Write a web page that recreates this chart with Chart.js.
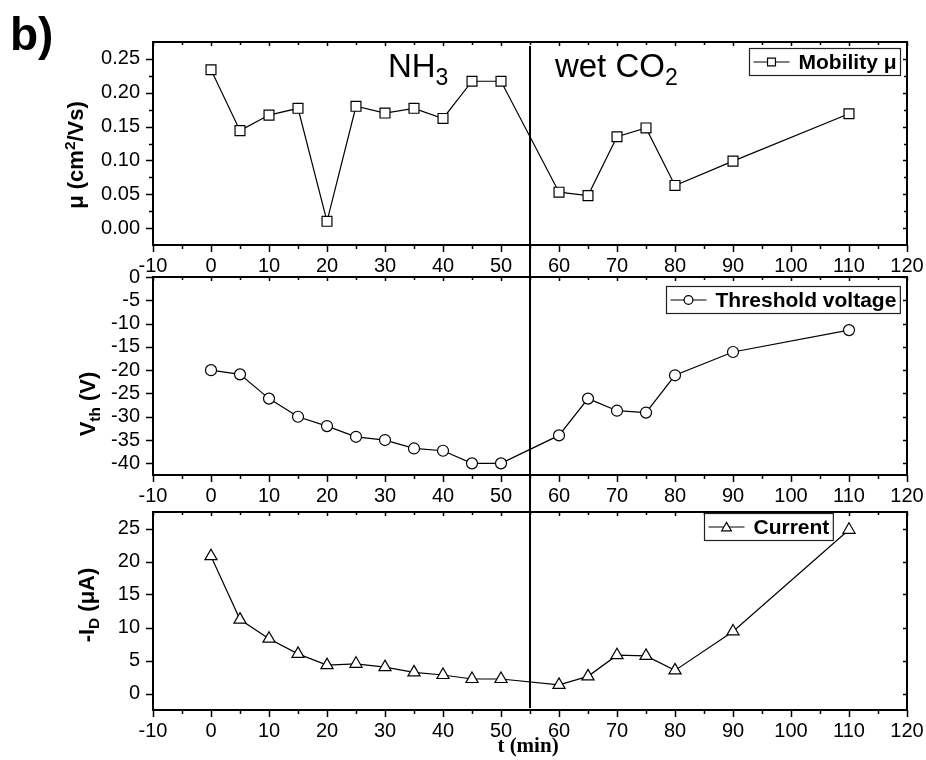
<!DOCTYPE html>
<html lang="en">
<head>
  <meta charset="UTF-8">
  <title>Mobility, threshold voltage and current vs time</title>
  <script src="https://cdn.jsdelivr.net/npm/chart.js@4.4.1/dist/chart.umd.min.js"></script>
  <style>
    html, body { margin: 0; padding: 0; background: #fff; }
    #wrap { position: relative; width: 926px; height: 760px; overflow: hidden; }
    #wrap canvas { position: absolute; left: 0; }
  </style>
</head>
<body>
  <div id="wrap">
    <canvas id="c1" width="926" height="285" style="top:0px"></canvas>
    <canvas id="c2" width="926" height="250" style="top:262px"></canvas>
    <canvas id="c3" width="926" height="263" style="top:497px"></canvas>
  </div>

  <script>
    // time after start (min)
    const times = [0, 5, 10, 15, 20, 25, 30, 35, 40, 45, 50, 60, 65, 70, 75, 80, 90, 110];
    const mobility = [0.234, 0.144, 0.167, 0.177, 0.010, 0.180, 0.170, 0.177, 0.162, 0.217, 0.217,
                      0.053, 0.048, 0.135, 0.148, 0.063, 0.099, 0.169];
    const vth = [-20.0, -20.9, -26.1, -30.0, -32.0, -34.3, -35.0, -36.8, -37.3, -40.0, -40.0,
                 -34.0, -26.1, -28.7, -29.1, -21.1, -16.1, -11.4];
    const current = [20.8, 11.2, 8.3, 6.0, 4.3, 4.5, 4.0, 3.2, 2.8, 2.2, 2.2,
                     1.3, 2.6, 5.8, 5.7, 3.5, 9.4, 24.8];
    const switchTime = 55; // NH3 -> wet CO2

    const xTicks = [-10, 0, 10, 20, 30, 40, 50, 60, 70, 80, 90, 100, 110, 120];
    const muTicks = [0, 0.05, 0.10, 0.15, 0.20, 0.25];
    const vthTicks = [-40, -35, -30, -25, -20, -15, -10, -5, 0];
    const curTicks = [0, 5, 10, 15, 20, 25];

    const SANS = '"Liberation Sans", Arial, Helvetica, sans-serif';
    const SERIF = '"Liberation Serif", "Times New Roman", serif';

    function mids(vals) {
      const out = [];
      for (let i = 0; i < vals.length - 1; i++) out.push((vals[i] + vals[i + 1]) / 2);
      return out;
    }

    function drawRich(ctx, parts, size) {
      // parts: [text, mode] with mode 0 normal, 1 superscript, -1 subscript
      let w = 0;
      parts.forEach(p => {
        ctx.font = 'bold ' + (p[1] ? size * 0.7 : size) + 'px ' + SANS;
        w += ctx.measureText(p[0]).width;
      });
      let x = -w / 2;
      parts.forEach(p => {
        const s = p[1] ? size * 0.7 : size;
        ctx.font = 'bold ' + s + 'px ' + SANS;
        const dy = p[1] === 1 ? -size * 0.38 : p[1] === -1 ? size * 0.25 : 0;
        ctx.fillText(p[0], x, size * 0.36 + dy);
        x += ctx.measureText(p[0]).width;
      });
    }

    const framePlugin = {
      id: 'frame',
      afterDraw(chart, args, opts) {
        const { ctx, chartArea: a, scales: { x, y } } = chart;
        ctx.save();
        ctx.strokeStyle = '#000';
        ctx.fillStyle = '#000';

        // divider between the two gas phases
        const xd = Math.round(x.getPixelForValue(switchTime));
        ctx.lineWidth = 2;
        ctx.beginPath();
        ctx.moveTo(xd, opts.divTop === 'area' ? a.top + 4 : 0);
        ctx.lineTo(xd, opts.divBottom === 'area' ? a.bottom - 2 : chart.height);
        ctx.stroke();

        // ticks
        ctx.lineWidth = 1.5;
        const xs = x.ticks.map(t => t.value);
        const ys = y.ticks.map(t => t.value);
        ctx.beginPath();
        xs.forEach(v => {
          const p = Math.round(x.getPixelForValue(v)) + 0.5;
          ctx.moveTo(p, a.bottom); ctx.lineTo(p, a.bottom + 7);
          ctx.moveTo(p, a.top); ctx.lineTo(p, a.top + 4);
        });
        mids(xs).forEach(v => {
          const p = Math.round(x.getPixelForValue(v)) + 0.5;
          ctx.moveTo(p, a.bottom); ctx.lineTo(p, a.bottom + 4);
          ctx.moveTo(p, a.top); ctx.lineTo(p, a.top + 3);
        });
        ys.forEach(v => {
          const p = Math.round(y.getPixelForValue(v)) + 0.5;
          ctx.moveTo(a.left - 7, p); ctx.lineTo(a.left, p);
          ctx.moveTo(a.right - 4, p); ctx.lineTo(a.right, p);
        });
        if (opts.yMinor) {
          mids(ys).forEach(v => {
            const p = Math.round(y.getPixelForValue(v)) + 0.5;
            ctx.moveTo(a.left - 4, p); ctx.lineTo(a.left, p);
            ctx.moveTo(a.right - 3, p); ctx.lineTo(a.right, p);
          });
        }
        ctx.stroke();

        // box
        ctx.lineWidth = 2;
        ctx.strokeRect(a.left, a.top, a.right - a.left, a.bottom - a.top);

        // legend
        const ds = chart.data.datasets[0];
        const L = opts.legend;
        ctx.font = 'bold 21px ' + SANS;
        const tw = ctx.measureText(ds.label).width;
        const bw = 4 + 36 + 9 + tw + 4, bh = 27;
        const bx = Math.round(a.right - L.right - bw) + 0.5, by = Math.round(a.top + L.top) + 0.5;
        ctx.fillStyle = '#fff';
        ctx.fillRect(bx, by, bw, bh);
        ctx.lineWidth = 1.2;
        ctx.strokeStyle = '#222';
        ctx.strokeRect(bx, by, bw, bh);
        ctx.strokeStyle = '#000';
        ctx.lineWidth = 1.2;
        ctx.beginPath();
        ctx.moveTo(bx + 4, by + bh / 2); ctx.lineTo(bx + 40, by + bh / 2);
        ctx.stroke();
        ctx.fillStyle = '#fff';
        Chart.helpers.drawPoint(ctx, {
          pointStyle: ds.pointStyle, radius: ds.pointRadius * 0.8, rotation: 0, borderWidth: 1.2
        }, bx + 22, by + bh / 2 + (ds.pointStyle === 'triangle' ? 1 : 0));
        ctx.fillStyle = '#000';
        ctx.textBaseline = 'middle';
        ctx.textAlign = 'left';
        ctx.fillText(ds.label, bx + 49, by + bh / 2 + 1);

        // gas labels
        ctx.textBaseline = 'alphabetic';
        (opts.notes || []).forEach(n => {
          const px = x.getPixelForValue(n.x), py = y.getPixelForValue(n.y);
          ctx.font = '33px ' + SANS;
          ctx.fillText(n.text, px, py);
          const w = ctx.measureText(n.text).width;
          ctx.font = '23px ' + SANS;
          ctx.fillText(n.sub, px + w, py + 8);
        });

        // y title
        const t = opts.ytitle;
        ctx.save();
        ctx.translate(t.x, t.y);
        ctx.rotate(-Math.PI / 2);
        drawRich(ctx, t.parts, 22);
        ctx.restore();

        // extras
        (opts.extras || []).forEach(e => {
          ctx.font = e.font;
          ctx.textAlign = e.align || 'left';
          ctx.fillText(e.text, e.x, e.y);
        });
        ctx.restore();
      }
    };

    function makePanel(id, cfg) {
      return new Chart(document.getElementById(id), {
        type: 'line',
        data: {
          datasets: [{
            label: cfg.label,
            data: times.map((t, i) => ({ x: t, y: cfg.values[i] })),
            borderColor: '#000',
            borderWidth: 1.2,
            pointStyle: cfg.pointStyle,
            pointRadius: cfg.pointRadius,
            pointBackgroundColor: '#fff',
            pointBorderColor: '#000',
            pointBorderWidth: 1.2,
            tension: 0,
            fill: false
          }]
        },
        options: {
          responsive: false,
          animation: false,
          events: [],
          layout: { padding: { top: cfg.padTop, right: 19, left: 0, bottom: 0 } },
          plugins: {
            legend: { display: false },
            tooltip: { enabled: false },
            frame: cfg.frame
          },
          scales: {
            x: {
              type: 'linear', min: -10, max: 120,
              grid: { display: false }, border: { display: false },
              afterBuildTicks: s => { s.ticks = xTicks.map(v => ({ value: v })); },
              afterFit: s => { s.height = cfg.xHeight; s.paddingLeft = 0; s.paddingRight = 0; },
              ticks: {
                color: '#000', padding: 1, maxRotation: 0, autoSkip: false,
                font: { family: SANS, size: 20 },
                callback: v => String(v)
              }
            },
            y: {
              type: 'linear', min: cfg.min, max: cfg.max,
              grid: { display: false }, border: { display: false },
              afterBuildTicks: s => { s.ticks = cfg.ticks.map(v => ({ value: v })); },
              afterFit: s => { s.width = 153; s.paddingTop = 0; s.paddingBottom = 0; },
              ticks: {
                color: '#000', padding: 5, autoSkip: false,
                font: { family: SANS, size: 20 },
                callback: cfg.fmt
              }
            }
          }
        },
        plugins: [framePlugin]
      });
    }

    makePanel('c1', {
      label: 'Mobility \u03bc', values: mobility, pointStyle: 'rect', pointRadius: 7,
      min: -0.025, max: 0.275, ticks: muTicks, fmt: v => v.toFixed(2),
      padTop: 42, xHeight: 40,
      frame: {
        divTop: 'area', divBottom: 'edge', yMinor: true,
        legend: { right: 7, top: 6 },
        notes: [{ text: 'NH', sub: '3', x: 30.5, y: 0.224 }, { text: 'wet CO', sub: '2', x: 59.3, y: 0.224 }],
        ytitle: { x: 75, y: 155, parts: [['\u03bc (cm', 0], ['2', 1], ['/Vs)', 0]] },
        extras: [{ text: 'b)', font: 'bold 46px ' + SANS, x: 10, y: 50 }]
      }
    });

    makePanel('c2', {
      label: 'Threshold voltage', values: vth, pointStyle: 'circle', pointRadius: 5.5,
      min: -42.5, max: 0, ticks: vthTicks, fmt: v => String(v),
      padTop: 15, xHeight: 37,
      frame: {
        divTop: 'edge', divBottom: 'edge', yMinor: false,
        legend: { right: 7, top: 9 },
        ytitle: { x: 87, y: 142, parts: [['V', 0], ['th', -1], [' (V)', 0]] }
      }
    });

    makePanel('c3', {
      label: 'Current', values: current, pointStyle: 'triangle', pointRadius: 7,
      min: -2.5, max: 27.5, ticks: curTicks, fmt: v => String(v),
      padTop: 15, xHeight: 50,
      frame: {
        divTop: 'edge', divBottom: 'area', yMinor: false,
        legend: { right: 74, top: 1 },
        ytitle: { x: 86, y: 108, parts: [['-I', 0], ['D', -1], [' (\u03bcA)', 0]] },
        extras: [{ text: 't (min)', font: 'bold 21px ' + SERIF, x: 528, y: 255, align: 'center' }]
      }
    });
  </script>
</body>
</html>
